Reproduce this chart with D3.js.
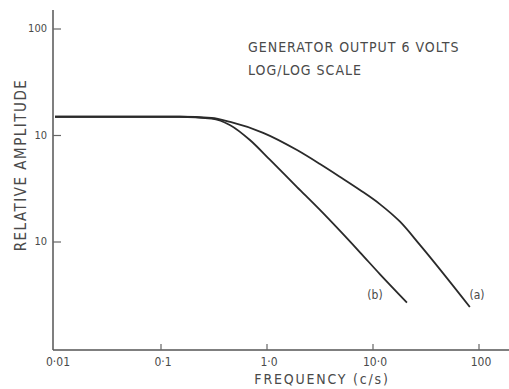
<!DOCTYPE html>
<html><head><meta charset="utf-8">
<script src="https://cdn.jsdelivr.net/npm/d3@7"></script>
<style>
body{margin:0;background:#fff;}
text{font-family:"DejaVu Sans","Liberation Sans",sans-serif;font-stretch:condensed;fill:#4a4a4a;}
</style></head><body>
<svg id="c" width="509" height="389"></svg>
<script>
// Data
const xTickValues = [0.01, 0.1, 1, 10, 100];
const xTickLabels = ["0·01", "0·1", "1·0", "10·0", "100"];
const yTickValues = [100, 10, 1];
const yTickLabels = ["100", "10", "10"];
const freqA = [0.01, 0.15, 0.3, 0.45, 0.92, 1.92, 3.16, 4.9, 7.53, 11.6, 18.0, 27.7, 82];
const ampA  = [15.0, 15.0, 14.6, 13.4, 10.6, 7.3, 5.4, 4.08, 3.08, 2.27, 1.55, 0.94, 0.245];
const freqB = [0.01, 0.15, 0.3, 0.45, 0.69, 1.07, 1.92, 3.16, 4.89, 7.53, 11.6, 20.9];
const ampB  = [15.0, 15.0, 14.4, 12.5, 9.07, 5.89, 3.28, 2.0, 1.27, 0.80, 0.50, 0.27];
const title = ["GENERATOR OUTPUT 6 VOLTS", "LOG/LOG SCALE"];

const svg = d3.select("#c");
const x = d3.scaleLog().domain([0.01, 100]).range([55, 479]);
const y = d3.scaleLog().domain([1, 100]).range([242, 29]);
const axisX = 53, axisY = 350;

// axes lines
svg.append("line").attr("x1", axisX).attr("x2", axisX).attr("y1", 10).attr("y2", axisY)
  .attr("stroke", "#555").attr("stroke-width", 1.5);
svg.append("line").attr("x1", axisX).attr("x2", 509).attr("y1", axisY).attr("y2", axisY)
  .attr("stroke", "#555").attr("stroke-width", 1.5);

// x ticks (inward)
const gx = svg.append("g");
xTickValues.forEach((v, i) => {
  if (i > 0) gx.append("line").attr("x1", x(v)).attr("x2", x(v)).attr("y1", axisY).attr("y2", axisY - 6)
    .attr("stroke", "#666").attr("stroke-width", 1.2);
  gx.append("text").attr("x", x(v) + (i === 0 ? 3 : 2)).attr("y", 366).attr("text-anchor", "middle")
    .attr("font-size", 12).text(xTickLabels[i]);
});
// y ticks (inward)
const gy = svg.append("g");
yTickValues.forEach((v, i) => {
  gy.append("line").attr("x1", axisX).attr("x2", axisX + 8).attr("y1", y(v)).attr("y2", y(v))
    .attr("stroke", "#666").attr("stroke-width", 1.2);
  gy.append("text").attr("x", 47).attr("y", y(v) + 3).attr("text-anchor", "end")
    .attr("font-size", 11).text(yTickLabels[i]);
});

// axis titles
svg.append("text").attr("x", 322).attr("y", 384).attr("text-anchor", "middle")
  .attr("font-size", 14).attr("letter-spacing", 1.8).text("FREQUENCY (c/s)");
svg.append("text").attr("transform", "translate(26,165) rotate(-90)").attr("text-anchor", "middle")
  .attr("font-size", 15).attr("letter-spacing", 1.5).text("RELATIVE AMPLITUDE");

// chart title
title.forEach((t, i) => {
  svg.append("text").attr("x", 248).attr("y", 52 + i * 23).attr("font-size", 14)
    .attr("letter-spacing", 1).text(t);
});

// curves
const line = d3.line().x(d => x(d[0])).y(d => y(d[1])).curve(d3.curveMonotoneX);
[[freqA, ampA], [freqB, ampB]].forEach(([f, a]) => {
  svg.append("path").datum(f.map((v, i) => [v, a[i]])).attr("d", line)
    .attr("fill", "none").attr("stroke", "#2a2a2a").attr("stroke-width", 1.8);
});
svg.append("text").attr("x", 477).attr("y", 299).attr("text-anchor", "middle").attr("font-size", 12).text("(a)");
svg.append("text").attr("x", 375).attr("y", 299).attr("text-anchor", "middle").attr("font-size", 12).text("(b)");
</script>
</body></html>
